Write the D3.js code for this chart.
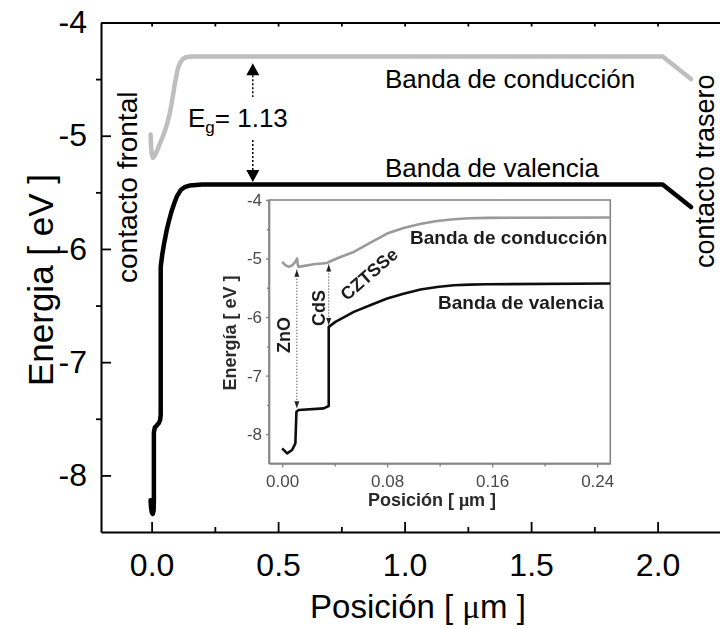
<!DOCTYPE html>
<html>
<head>
<meta charset="utf-8">
<script src="https://cdn.jsdelivr.net/npm/d3@7"></script>
<style>
  body { margin: 0; background: #fff; }
  svg { display: block; }
  text { font-family: "Liberation Sans", Arial, Helvetica, sans-serif; }
</style>
</head>
<body>
<svg id="chart" width="720" height="629"></svg>
<script>
// ---- Main panel: band edges across the full device [position µm, energy eV]
const conductionBand = [
  [-0.004, -4.99], [-0.002, -5.10], [0.001, -5.17], [0.005, -5.195], [0.010, -5.185],
  [0.016, -5.16], [0.023, -5.125], [0.032, -5.075], [0.042, -5.02], [0.052, -4.96],
  [0.062, -4.89], [0.070, -4.82], [0.078, -4.73], [0.085, -4.64], [0.091, -4.55],
  [0.098, -4.47], [0.104, -4.405], [0.112, -4.36], [0.122, -4.325], [0.135, -4.307],
  [0.155, -4.30], [2.02, -4.30], [2.132, -4.50]
];
const valenceBand = [
  [-0.004, -8.22], [-0.002, -8.29], [0.001, -8.33], [0.005, -8.34], [0.008, -8.31],
  [0.009, -8.22], [0.009, -7.62], [0.013, -7.575], [0.020, -7.56], [0.028, -7.54],
  [0.034, -7.51], [0.036, -7.46], [0.036, -6.16], [0.042, -6.05], [0.050, -5.945],
  [0.060, -5.83], [0.070, -5.74], [0.080, -5.66], [0.090, -5.595], [0.100, -5.535],
  [0.115, -5.48], [0.130, -5.455], [0.150, -5.44], [0.200, -5.43], [2.02, -5.43],
  [2.132, -5.63]
];
const gapArrowX = 0.40;          // position of the Eg arrow
const gapTop = -4.30, gapBottom = -5.43;
const gapLabel = "1.13";

const mainXTicks = [0.0, 0.5, 1.0, 1.5, 2.0];
const mainXMinor = [0.25, 0.75, 1.25, 1.75, 2.25];
const mainYTicks = [-8, -7, -6, -5, -4];
const mainYMinor = [-7.5, -6.5, -5.5, -4.5];

// ---- Inset: zoom on the front layers (ZnO / CdS / CZTSSe)
const insetConduction = [
  [0.000, -5.058], [0.0025, -5.114], [0.005, -5.143], [0.0078, -5.114], [0.0101, -5.058],
  [0.0114, -5.00], [0.0120, -5.114], [0.0126, -5.143], [0.0241, -5.097], [0.0343, -5.075],
  [0.0368, -5.046], [0.0444, -4.973], [0.0546, -4.887], [0.068, -4.72], [0.080, -4.573],
  [0.0925, -4.48], [0.105, -4.41], [0.118, -4.36], [0.1307, -4.33], [0.143, -4.312],
  [0.156, -4.305], [0.250, -4.30]
];
const insetValence = [
  [0.000, -8.242], [0.0038, -8.328], [0.0076, -8.271], [0.0101, -8.157], [0.0109, -7.618],
  [0.0126, -7.589], [0.0317, -7.560], [0.0355, -7.520], [0.0355, -6.167], [0.0406, -6.082],
  [0.0546, -5.911], [0.068, -5.79], [0.080, -5.683], [0.0925, -5.60], [0.1054, -5.529],
  [0.118, -5.485], [0.1307, -5.456], [0.143, -5.445], [0.156, -5.439], [0.250, -5.427]
];
// interface markers: [position, top energy, bottom energy]
const insetInterfaces = [
  [0.0112, -5.14, -7.59],
  [0.0355, -5.05, -6.17]
];
const insetXTicks = [0.00, 0.08, 0.16, 0.24];
const insetXMinor = [0.04, 0.12, 0.20];
const insetYTicks = [-8, -7, -6, -5, -4];
const insetYMinor = [-7.5, -6.5, -5.5, -4.5];

const svg = d3.select("#chart");
const hyphenInt = d => String(d);   // plain hyphen-minus labels

const defs = svg.append("defs");
defs.append("filter").attr("id", "soft")
  .append("feGaussianBlur").attr("stdDeviation", 0.45);

// ---------- main panel ----------
const x = d3.scaleLinear().domain([-0.2, 2.3]).range([101, 733.5]);
const y = d3.scaleLinear().domain([-8.5, -4]).range([532, 22.5]);

const line = d3.line().x(d => x(d[0])).y(d => y(d[1]));

const axisStyle = g => {
  g.select(".domain").attr("stroke", "#000").attr("stroke-width", 2);
  g.selectAll(".tick line").attr("stroke", "#000").attr("stroke-width", 1.8);
  g.selectAll("text").attr("fill", "#000").style("font-family", '"Liberation Sans", Arial, sans-serif');
};

// bottom axis (major ticks inward, labelled)
svg.append("g").attr("transform", `translate(0,${y.range()[0]})`)
  .call(d3.axisBottom(x).tickValues(mainXTicks).tickSizeInner(-10).tickSizeOuter(0)
    .tickPadding(21).tickFormat(d3.format(".1f")))
  .call(axisStyle)
  .call(g => g.selectAll("text").attr("font-size", 32));
svg.append("g").attr("transform", `translate(0,${y.range()[0]})`)
  .call(d3.axisBottom(x).tickValues(mainXMinor).tickSizeInner(-5).tickSizeOuter(0).tickFormat(""))
  .call(axisStyle).call(g => g.select(".domain").remove());

// top border with short ticks
svg.append("g").attr("transform", `translate(0,${y.range()[1]})`)
  .call(d3.axisTop(x).tickValues(mainXTicks.concat(mainXMinor)).tickSizeInner(-4).tickSizeOuter(0).tickFormat(""))
  .call(axisStyle);

// left axis (major ticks inward, minor ticks outward)
svg.append("g").attr("transform", `translate(${x.range()[0]},0)`)
  .call(d3.axisLeft(y).tickValues(mainYTicks).tickSizeInner(-10).tickSizeOuter(0)
    .tickPadding(14).tickFormat(hyphenInt))
  .call(axisStyle)
  .call(g => g.selectAll("text").attr("font-size", 32));
svg.append("g").attr("transform", `translate(${x.range()[0]},0)`)
  .call(d3.axisLeft(y).tickValues(mainYMinor).tickSizeInner(5).tickSizeOuter(0).tickFormat(""))
  .call(axisStyle).call(g => g.select(".domain").remove());

// axis titles
const xt = svg.append("text").attr("x", 418).attr("y", 618).attr("text-anchor", "middle")
  .attr("font-size", 33);
xt.append("tspan").text("Posición [ ");
xt.append("tspan").style("font-family", '"Liberation Serif", "Times New Roman", serif').text("\u03BC");
xt.append("tspan").text("m ]");
svg.append("text").attr("transform", "translate(53,280) rotate(-90)").attr("text-anchor", "middle")
  .attr("font-size", 35).text("Energia [ eV ]");

// band edges
svg.append("path").datum(conductionBand).attr("d", line)
  .attr("fill", "none").attr("stroke", "#bebebe").attr("stroke-width", 4.5)
  .attr("stroke-linejoin", "round").attr("stroke-linecap", "round");
svg.append("path").datum(valenceBand).attr("d", line)
  .attr("fill", "none").attr("stroke", "#000").attr("stroke-width", 4.5)
  .attr("stroke-linejoin", "round").attr("stroke-linecap", "round");

// band-gap arrow
const ax = x(gapArrowX);
const yTopTip = y(gapTop) + 6.8, yBotTip = y(gapBottom) - 2.3;
const head = 12, hw = 6.5;
svg.append("path").attr("fill", "#000")
  .attr("d", `M${ax},${yTopTip} L${ax - hw},${yTopTip + head} L${ax + hw},${yTopTip + head} Z`);
svg.append("path").attr("fill", "#000")
  .attr("d", `M${ax},${yBotTip} L${ax - hw},${yBotTip - head} L${ax + hw},${yBotTip - head} Z`);
svg.append("line").attr("x1", ax).attr("x2", ax).attr("y1", yTopTip + head).attr("y2", 97)
  .attr("stroke", "#000").attr("stroke-width", 1.5).attr("stroke-dasharray", "2,2");
svg.append("line").attr("x1", ax).attr("x2", ax).attr("y1", 140).attr("y2", yBotTip - head)
  .attr("stroke", "#000").attr("stroke-width", 1.5).attr("stroke-dasharray", "2,2");

const eg = svg.append("text").attr("x", 188).attr("y", 127).attr("font-size", 26);
eg.append("tspan").text("E");
eg.append("tspan").attr("font-size", 17).attr("dy", 6).text("g");
eg.append("tspan").attr("dy", -6).text("= " + gapLabel);

// band labels
svg.append("text").attr("x", 385).attr("y", 88).attr("font-size", 26).text("Banda de conducción");
svg.append("text").attr("x", 385).attr("y", 177).attr("font-size", 26).text("Banda de valencia");
svg.append("text").attr("transform", "translate(137,283) rotate(-90)").attr("font-size", 28)
  .text("contacto frontal");
svg.append("text").attr("transform", "translate(714,268) rotate(-90)").attr("font-size", 27)
  .text("contacto trasero");

// ---------- inset ----------
const inset = svg.append("g").attr("filter", "url(#soft)");
const xi = d3.scaleLinear().domain([-0.01, 0.25]).range([269, 610.3]);
const yi = d3.scaleLinear().domain([-8.5, -4]).range([463.4, 200]);
const lineI = d3.line().x(d => xi(d[0])).y(d => yi(d[1]));

const insetAxisStyle = g => {
  g.select(".domain").attr("stroke", "#858585").attr("stroke-width", 1.6);
  g.selectAll(".tick line").attr("stroke", "#858585").attr("stroke-width", 1.4);
  g.selectAll("text").attr("fill", "#4a4a4a").attr("font-size", 17)
    .style("font-family", '"Liberation Sans", Arial, sans-serif');
};

inset.append("rect").attr("x", xi.range()[0]).attr("y", yi.range()[1])
  .attr("width", xi.range()[1] - xi.range()[0]).attr("height", yi.range()[0] - yi.range()[1])
  .attr("fill", "#fff").attr("stroke", "#858585").attr("stroke-width", 1.6);

inset.append("g").attr("transform", `translate(0,${yi.range()[0]})`)
  .call(d3.axisBottom(xi).tickValues(insetXTicks).tickSizeInner(4).tickSizeOuter(0)
    .tickPadding(8).tickFormat(d3.format(".2f")))
  .call(insetAxisStyle);
inset.append("g").attr("transform", `translate(0,${yi.range()[0]})`)
  .call(d3.axisBottom(xi).tickValues(insetXMinor).tickSizeInner(3).tickSizeOuter(0).tickFormat(""))
  .call(insetAxisStyle).call(g => g.select(".domain").remove());
inset.append("g").attr("transform", `translate(${xi.range()[0]},0)`)
  .call(d3.axisLeft(yi).tickValues(insetYTicks).tickSizeInner(3).tickSizeOuter(0)
    .tickPadding(4).tickFormat(hyphenInt))
  .call(insetAxisStyle);
inset.append("g").attr("transform", `translate(${xi.range()[0]},0)`)
  .call(d3.axisLeft(yi).tickValues(insetYMinor).tickSizeInner(2).tickSizeOuter(0).tickFormat(""))
  .call(insetAxisStyle).call(g => g.select(".domain").remove());

const ixt = inset.append("text").attr("x", 432).attr("y", 506).attr("text-anchor", "middle")
  .attr("font-size", 18).attr("font-weight", "bold").attr("fill", "#2a2a2a");
ixt.append("tspan").text("Posición [ ");
ixt.append("tspan").style("font-family", '"Liberation Serif", "Times New Roman", serif').text("\u03BC");
ixt.append("tspan").text("m ]");
inset.append("text").attr("transform", "translate(236,333) rotate(-90)").attr("text-anchor", "middle")
  .attr("font-size", 18).attr("font-weight", "bold").attr("fill", "#2a2a2a").text("Energía [ eV ]");

// interface markers (dotted double arrows)
insetInterfaces.forEach(([p, eTop, eBot]) => {
  const px = xi(p), t = yi(eTop) + 3, b = yi(eBot) - 2;
  inset.append("line").attr("x1", px).attr("x2", px).attr("y1", t).attr("y2", b)
    .attr("stroke", "#333").attr("stroke-width", 0.9).attr("stroke-dasharray", "1.2,1.8");
  inset.append("path").attr("fill", "#222")
    .attr("d", `M${px},${t} L${px - 2.5},${t + 7} L${px + 2.5},${t + 7} Z`);
  inset.append("path").attr("fill", "#222")
    .attr("d", `M${px},${b} L${px - 2.5},${b - 7} L${px + 2.5},${b - 7} Z`);
});

inset.append("path").datum(insetConduction).attr("d", lineI)
  .attr("fill", "none").attr("stroke", "#9a9a9a").attr("stroke-width", 2.6)
  .attr("stroke-linejoin", "round");
inset.append("path").datum(insetValence).attr("d", lineI)
  .attr("fill", "none").attr("stroke", "#111").attr("stroke-width", 2.6)
  .attr("stroke-linejoin", "round");

const bold = (sel) => sel.attr("font-weight", "bold").attr("fill", "#1e1e1e");
inset.append("text").attr("x", 410).attr("y", 244).attr("font-size", 19).call(bold).text("Banda de conducción");
inset.append("text").attr("x", 438).attr("y", 309).attr("font-size", 19).call(bold).text("Banda de valencia");
inset.append("text").attr("transform", "translate(283.5,335) rotate(-90)").attr("text-anchor", "middle")
  .attr("dy", "0.35em").attr("font-size", 18).call(bold).text("ZnO");
inset.append("text").attr("transform", "translate(318.5,308) rotate(-90)").attr("text-anchor", "middle")
  .attr("dy", "0.35em").attr("font-size", 18).call(bold).text("CdS");
inset.append("text").attr("transform", "translate(369,274) rotate(-41)").attr("text-anchor", "middle")
  .attr("dy", "0.35em").attr("font-size", 18).call(bold).text("CZTSSe");
</script>
</body>
</html>
